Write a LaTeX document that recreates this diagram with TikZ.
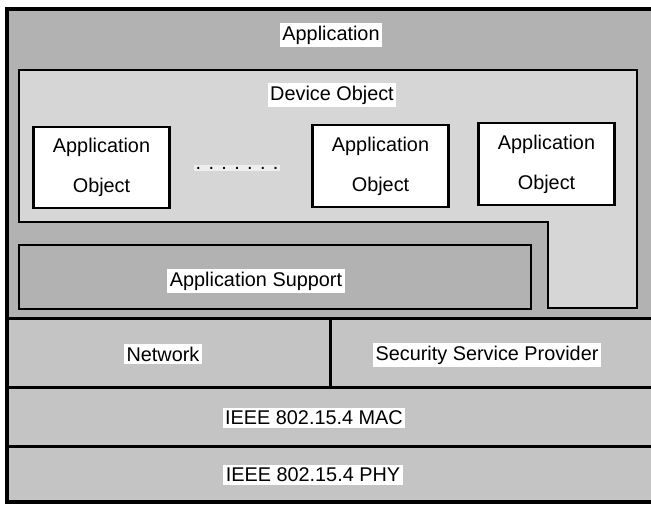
\documentclass[tikz,border=0pt]{standalone}
\usepackage{fontspec}
\setmainfont{Liberation Sans}
\definecolor{appgrey}{gray}{0.70}
\definecolor{devgrey}{gray}{0.84}
\definecolor{lowgrey}{gray}{0.77}
\begin{document}
\begin{tikzpicture}[x=0.02cm, y=-0.02cm, font=\fontsize{11.3}{13}\selectfont,
                    label node/.style={fill=white, inner sep=1.5pt},
                    object node/.style={draw, line width=1.4pt, fill=white, inner sep=0pt,
                      minimum width=2.72cm, minimum height=1.63cm, align=center,
                      font=\fontsize{11.3}{22.7}\selectfont}]
  \useasboundingbox (0,0) rectangle (651,504);

  % layers
  \fill[appgrey] (7,9) rectangle (660,318);
  \filldraw[fill=devgrey, line width=1.1pt] (19,70) -- (637,70) -- (637,308) -- (548,308)
    -- (548,222) -- (19,222) -- cycle;
  \filldraw[fill=appgrey, line width=1.1pt] (19,245) rectangle (531,309);
  \fill[lowgrey] (7,318) rectangle (660,502);
  \draw[line width=1.7pt] (7,318) -- (660,318)
    (7,387) -- (660,387)
    (7,446) -- (660,446)
    (330,318) -- (330,387);
  \draw[line width=1.8pt] (660,9) -- (7,9) -- (7,502) -- (660,502);

  \node[label node] (app) at (331,35) {Application};
  \node[label node] (dev) at (332,95) {Device Object};

  \node[object node] (obj1) at (101.5,167.5) {Application\\Object};
  \node[object node] (obj2) at (380.5,166) {Application\\Object};
  \node[object node] (obj3) at (546.5,164) {Application\\Object};
  \node[fill=white, fill opacity=0.6, text opacity=1, inner sep=1pt] (dots) at (237,168) {. . . . . . .};

  \node[label node] (aps) at (256,281) {Application Support};
  \node[label node] (nwk) at (163,354) {Network};
  \node[label node] (ssp) at (487,355) {Security Service Provider};
  \node[label node] (mac) at (314,418) {IEEE 802.15.4 MAC};
  \node[label node] (phy) at (313,475) {IEEE 802.15.4 PHY};
\end{tikzpicture}
\end{document}
